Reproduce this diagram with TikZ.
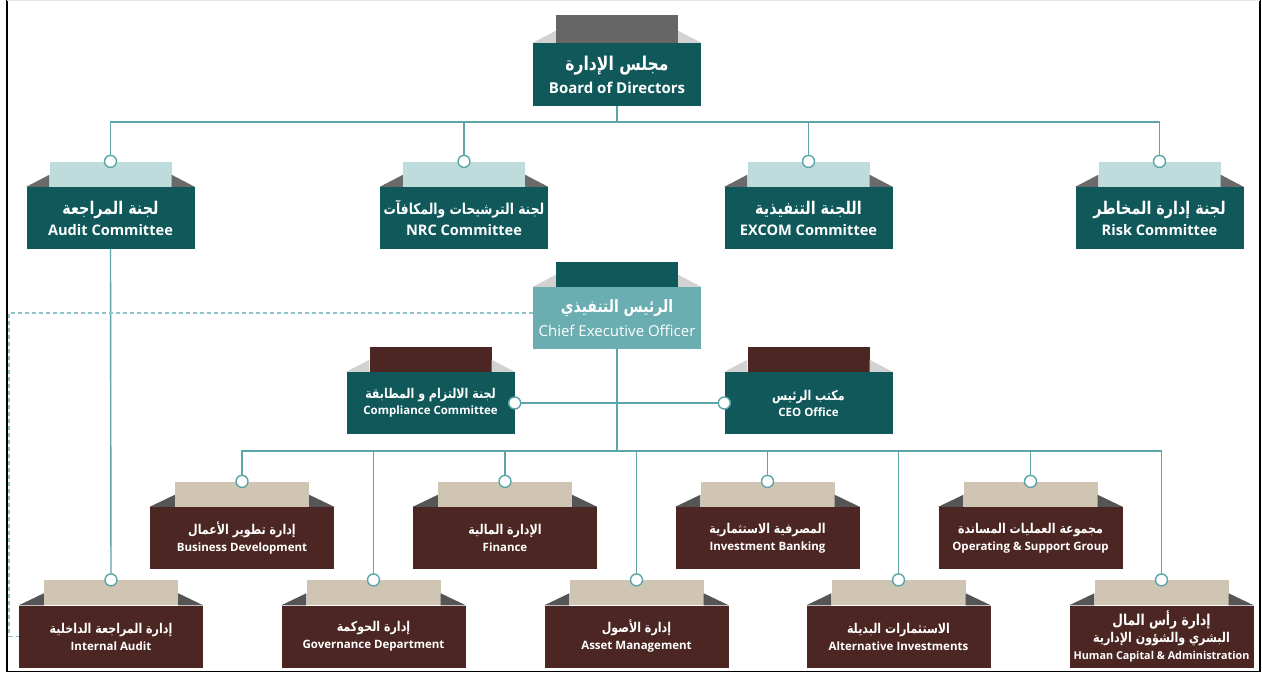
\documentclass[tikz,border=0pt]{standalone}
\usepackage{fontspec}
\setmainfont{Open Sans}
\newfontfamily\arabicfont[Script=Arabic,FakeStretch=0.82]{DejaVu Sans}
\TeXXeTstate=1
\usetikzlibrary{calc}
\definecolor{dteal}{HTML}{10585A}
\definecolor{lteal}{HTML}{BFDCDC}
\definecolor{ceoc}{HTML}{6BAEB2}
\definecolor{dbrown}{HTML}{4B2622}
\definecolor{beige}{HTML}{D0C4B3}
\definecolor{linec}{HTML}{5BA5A9}
\definecolor{dashc}{HTML}{8EC3C7}
\definecolor{tabgray}{HTML}{666666}
\definecolor{trid}{HTML}{6A6A6A}
\definecolor{tridd}{HTML}{555555}
\definecolor{tril}{HTML}{D2D2D2}
\def\arsz{}
\newcommand{\AR}[1]{{\arabicfont\bfseries\arsz\beginR #1\endR}}
\newcommand{\orgbox}[5]{%
  \node[#4] (#1) at (#2,#3) {#5};
  \node[#4 tab] (#1t) at (#1.north) {};
  \fill[#4 tri] (#1.north west) -- ([yshift=12pt]#1t.south west) -- (#1t.south west) -- cycle;
  \fill[#4 tri] (#1.north east) -- ([yshift=12pt]#1t.south east) -- (#1t.south east) -- cycle;
}
\tikzset{
  obox/.style={minimum height=62pt, inner sep=0pt, text=white, align=center},
  otab/.style={anchor=south, minimum height=25pt, inner sep=0pt},
  board/.style={obox, fill=dteal, minimum width=168pt, minimum height=63pt, font=\fontsize{15}{23}\selectfont\bfseries,
    execute at begin node={\def\arsz{\fontsize{19}{23}\selectfont}}},
  board tab/.style={otab, fill=tabgray, minimum width=122pt, minimum height=28pt},
  board tri/.style={fill=tril},
  comm/.style={obox, fill=dteal, minimum width=168pt, font=\fontsize{14.6}{21}\selectfont\bfseries,
    execute at begin node={\def\arsz{\fontsize{17.5}{21}\selectfont}}},
  comm tab/.style={otab, fill=lteal, minimum width=122pt},
  comm tri/.style={fill=trid},
  ceo/.style={obox, fill=ceoc, minimum width=168pt, font=\fontsize{15}{24}\selectfont,
    execute at begin node={\def\arsz{\fontsize{17}{24}\selectfont}}},
  ceo tab/.style={otab, fill=dteal, minimum width=122pt},
  ceo tri/.style={fill=tril},
  small/.style={obox, fill=dteal, minimum width=168pt, font=\fontsize{11.5}{16}\selectfont\bfseries,
    execute at begin node={\def\arsz{\fontsize{13.5}{16}\selectfont}}},
  small tab/.style={otab, fill=dbrown, minimum width=122pt},
  small tri/.style={fill=tril},
  dept/.style={obox, fill=dbrown, minimum width=184pt, font=\fontsize{11.5}{17}\selectfont\bfseries,
    execute at begin node={\def\arsz{\fontsize{13.5}{17}\selectfont}}},
  dept tab/.style={otab, fill=beige, minimum width=134pt},
  dept tri/.style={fill=tridd},
  dot/.style={circle, draw=linec, fill=white, line width=1.4pt, minimum size=12pt, inner sep=0pt},
  conn/.style={draw=linec, line width=1.4pt},
  dline/.style={draw=dashc, line width=1.2pt, dash pattern=on 4pt off 3pt},
}
\begin{document}
\begin{tikzpicture}[x=1pt,y=-1pt]
\useasboundingbox (0,0) rectangle (1262,674);
\fill[white] (0,0) rectangle (1262,674);
% boxes
\orgbox{board}{617}{74.5}{board}{\AR{مجلس الإدارة}\\Board of Directors}
\orgbox{audit}{110.5}{218}{comm}{\AR{لجنة المراجعة}\\Audit Committee}
\orgbox{nrc}{464}{218}{comm}{\def\arsz{\fontsize{15}{21}\selectfont}\AR{لجنة الترشيحات والمكافآت}\\NRC Committee}
\orgbox{excom}{808.5}{218}{comm}{\AR{اللجنة التنفيذية}\\EXCOM Committee}
\orgbox{risk}{1159.5}{218}{comm}{\AR{لجنة إدارة المخاطر}\\Risk Committee}
\orgbox{ceo}{617}{318}{ceo}{\AR{الرئيس التنفيذي}\\Chief Executive Officer}
\orgbox{comp}{430.5}{403}{small}{\AR{لجنة الالتزام و المطابقة}\\Compliance Committee}
\orgbox{office}{808.5}{403}{small}{\AR{مكتب الرئيس}\\CEO Office}
\orgbox{bd}{242}{538}{dept}{\AR{إدارة تطوير الأعمال}\\Business Development}
\orgbox{fin}{505}{538}{dept}{\AR{الإدارة المالية}\\Finance}
\orgbox{ib}{767.5}{538}{dept}{\AR{المصرفية الاستثمارية}\\Investment Banking}
\orgbox{osg}{1030.5}{538}{dept}{\AR{مجموعة العمليات المساندة}\\Operating \& Support Group}
\orgbox{ia}{111}{636.5}{dept}{\AR{إدارة المراجعة الداخلية}\\Internal Audit}
\orgbox{gov}{373.5}{636.5}{dept}{\AR{إدارة الحوكمة}\\Governance Department}
\orgbox{asset}{636.5}{636.5}{dept}{\AR{إدارة الأصول}\\Asset Management}
\orgbox{alt}{898.5}{636.5}{dept}{\AR{الاستثمارات البديلة}\\Alternative Investments}
\orgbox{hc}{1161.5}{636.5}{dept}{\fontsize{14}{18}\selectfont\def\arsz{\fontsize{15}{18}\selectfont}\AR{إدارة رأس المال}\\\AR{البشري والشؤون الإدارية}\\\fontsize{10.8}{16}\selectfont Human Capital \& Administration}
% dots
\foreach \n in {audit,nrc,excom,risk,bd,fin,ib,osg,ia,gov,asset,alt,hc}{
  \node[dot] (\n c) at (\n t.north) {};
}
\node[dot] (compc) at (comp.east) {};
\node[dot] (officec) at (office.west) {};
% connectors
\coordinate (bus1) at (617,122);
\coordinate (bus2) at (617,451);
\draw[conn] (board.south) -- (bus1);
\foreach \n in {audit,nrc,excom,risk}{ \draw[conn] (\n c) |- (bus1); }
\draw[conn] (ceo.south) -- (bus2);
\foreach \n in {bd,fin,ib,osg,gov,asset,alt,hc}{ \draw[conn] (\n c) |- (bus2); }
\draw[conn] (compc) -- (officec);
\draw[conn] (audit.south) -- (iac);
% dashed
\coordinate (dl1) at (9,313);
\coordinate (dl2) at (9,636.5);
\draw[dline] ([yshift=5pt]ceo.west) -- (dl1) -- (dl2) -- (ia.west);
% frame
\draw[black, line width=1.6pt] (7,0) -- (7,671.5) -- (1260,671.5) -- (1260,0);
\draw[gray!20, line width=1pt] (7,0.5) -- (1260,0.5);
\end{tikzpicture}
\end{document}
